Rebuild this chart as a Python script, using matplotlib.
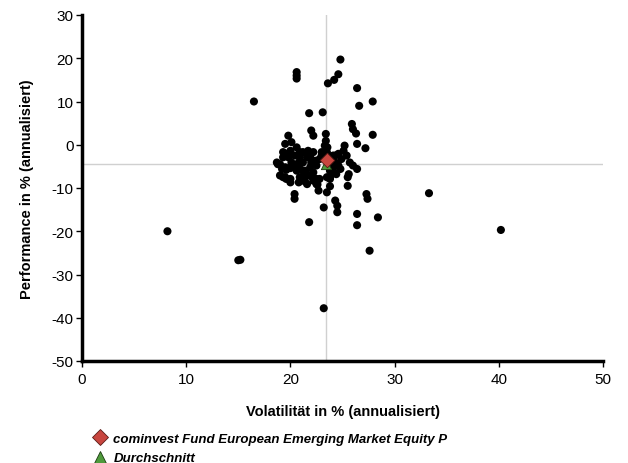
import matplotlib
matplotlib.use("Agg")
import matplotlib.pyplot as plt
from matplotlib.lines import Line2D

plt.rcParams['axes.unicode_minus'] = False
plt.rcParams['font.family'] = ['Liberation Sans', 'DejaVu Sans']

# Peer funds: volatility (x) and performance (y), % annualised
vol = [8.2, 15.0, 15.2, 16.5, 33.3, 40.2, 23.2,
       20.6, 20.6, 20.6, 24.8, 24.6, 24.2, 23.6, 26.4, 27.9, 26.6,
       21.8, 23.1, 25.9, 26.0, 26.3, 27.9,
       19.8, 22.0, 22.2, 23.4, 23.4, 23.3,
       25.2, 25.1, 26.4, 27.2,
       19.5, 20.1, 20.6, 19.3, 19.6, 19.3, 19.8, 20.4, 20.9, 20.0, 20.9, 21.7, 21.2, 22.2,
       21.9, 22.4, 21.6, 23.0, 24.1, 23.6, 24.3, 24.6, 24.9, 25.4,
       18.7, 18.8, 19.0, 20.1, 20.8, 21.2, 22.0, 20.9, 22.5, 21.9, 24.1, 24.3, 24.6, 23.8,
       25.7, 26.0, 26.4,
       19.2, 19.5, 19.6, 20.0, 20.6, 20.6, 21.2, 21.4, 22.2, 24.1, 23.8, 24.8, 24.4, 25.6,
       25.5, 21.6,
       19.0, 19.3, 19.5, 19.6, 20.0, 20.9, 21.1, 21.4, 22.0, 22.5, 22.8, 23.5, 23.8, 23.8,
       20.0, 20.8, 21.4, 22.2, 21.6, 22.5, 22.6, 23.8, 25.5, 22.7, 23.5,
       20.4, 20.4, 27.3, 27.4, 24.3, 24.5, 24.5, 23.2, 26.4, 28.4, 21.8, 26.4, 27.6,
       23.5, 23.55, 23.0, 22.8]
perf = [-20.0, -26.7, -26.6, 10.0, -11.2, -19.7, -37.8,
        16.8, 16.0, 15.3, 19.7, 16.3, 15.0, 14.2, 13.1, 10.0, 9.0,
        7.3, 7.5, 4.8, 3.6, 2.6, 2.3,
        2.1, 3.3, 2.1, 2.5, 0.9, -0.2,
        -0.2, -1.4, 0.2, -0.8,
        0.2, 0.6, -0.6, -1.7, -2.1, -2.9, -2.9, -2.5, -2.9, -1.4, -1.7, -1.4, -1.7, -1.7,
        -2.9, -3.7, -2.9, -1.7, -2.5, -2.5, -2.5, -2.1, -3.3, -2.5,
        -4.1, -4.5, -4.5, -4.1, -4.1, -4.1, -4.1, -4.5, -4.8, -5.2, -4.8, -4.1, -4.8, -4.8,
        -4.1, -4.8, -5.6,
        -5.6, -5.2, -5.8, -5.4, -5.2, -6.0, -6.0, -6.0, -6.4, -6.0, -6.0, -5.6, -6.8, -6.8,
        -7.5, -6.8,
        -7.1, -7.5, -7.5, -7.9, -7.9, -7.5, -7.5, -7.5, -7.3, -7.9, -7.9, -7.5, -7.5, -7.9,
        -8.7, -8.7, -8.5, -8.3, -9.1, -9.1, -9.2, -9.6, -9.5, -10.6, -11.0,
        -11.4, -12.5, -11.4, -12.5, -12.9, -14.1, -15.6, -14.5, -16.0, -16.8, -17.9, -18.6, -24.5,
        -1.7, -0.6, -2.5, -3.3]

fund_name = "cominvest Fund European Emerging Market Equity P"
fund_vol, fund_perf = 23.5, -3.6
avg_name = "Durchschnitt"
avg_vol, avg_perf = 23.4, -4.5

x_ticks = [0, 10, 20, 30, 40, 50]
y_ticks = [-50, -40, -30, -20, -10, 0, 10, 20, 30]

fig = plt.figure(figsize=(6.28, 4.64), dpi=100)
ax = fig.add_axes([82/628, 1 - 362/464, (603 - 82)/628, (362 - 16)/464])

ax.axvline(avg_vol, color='#d0d0d0', lw=1, zorder=1)
ax.axhline(avg_perf, color='#d0d0d0', lw=1, zorder=1)

ax.scatter(vol, perf, s=34, color='black', edgecolors='none', zorder=3)
ax.scatter([avg_vol], [avg_perf], marker='^', s=55, color='#4f9a3c',
           edgecolors='#1a3a10', linewidths=0.6, zorder=4)
ax.scatter([fund_vol], [fund_perf], marker='D', s=55, color='#c8463f',
           edgecolors='#5a1a16', linewidths=0.6, zorder=5)

ax.set_xlim(0, 50)
ax.set_ylim(-50, 30)
ax.set_xticks(x_ticks)
ax.set_yticks(y_ticks)
ax.tick_params(direction='out', length=4, width=1, labelsize=11, pad=2)
ax.tick_params(axis='x', pad=4)
for s in ['top', 'right']:
    ax.spines[s].set_visible(False)
for s in ['left', 'bottom']:
    ax.spines[s].set_linewidth(2.5)

ax.set_xlabel("Volatilität in % (annualisiert)", fontsize=10.5, fontweight='bold', labelpad=13)
ax.set_ylabel("Performance in % (annualisiert)", fontsize=10.5, fontweight='bold', labelpad=13)

handles = [
    Line2D([], [], marker='D', linestyle='none', markersize=8, markerfacecolor='#c8463f',
           markeredgecolor='#5a1a16', markeredgewidth=0.6),
    Line2D([], [], marker='^', linestyle='none', markersize=9, markerfacecolor='#4f9a3c',
           markeredgecolor='#1a3a10', markeredgewidth=0.6),
]
fig.legend(handles, [fund_name, avg_name], loc='upper left',
           bbox_to_anchor=(85/628, 1 - 427/464), frameon=False,
           prop={'size': 9.5, 'style': 'italic', 'weight': 'bold'},
           handletextpad=0.45, labelspacing=0.55, handlelength=1.2, borderpad=0)

fig.savefig("out.png", dpi=100)
